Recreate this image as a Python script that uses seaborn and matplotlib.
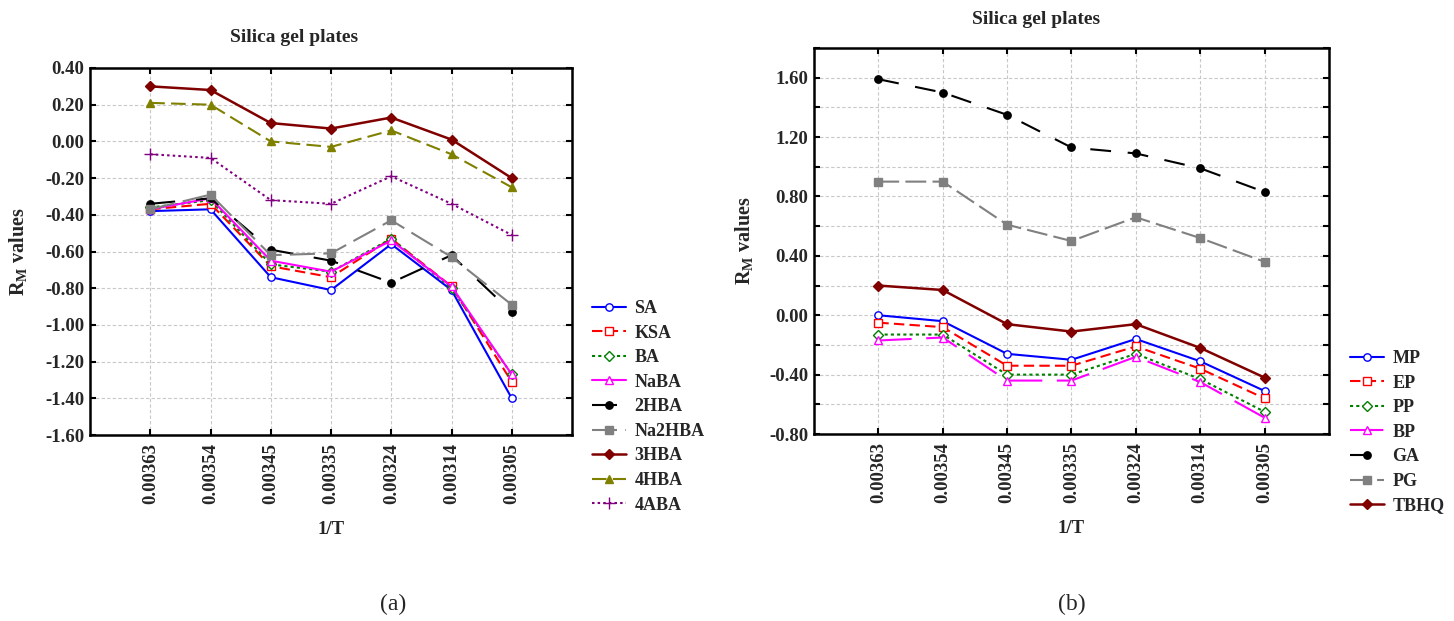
import matplotlib
matplotlib.use("Agg")
import matplotlib.pyplot as plt
import seaborn as sns
from matplotlib.ticker import MultipleLocator, FormatStrFormatter

# ---------------- data ----------------
x_labels = ["0.00363", "0.00354", "0.00345", "0.00335", "0.00324", "0.00314", "0.00305"]

# panel (a)
SA     = [-0.38, -0.37, -0.74, -0.81, -0.56, -0.81, -1.40]
KSA    = [-0.37, -0.34, -0.68, -0.74, -0.53, -0.79, -1.31]
BA     = [-0.36, -0.32, -0.67, -0.71, -0.53, -0.80, -1.27]
NaBA   = [-0.37, -0.31, -0.65, -0.71, -0.54, -0.79, -1.27]
HBA2   = [-0.34, -0.31, -0.59, -0.65, -0.77, -0.62, -0.93]
Na2HBA = [-0.37, -0.29, -0.62, -0.61, -0.43, -0.63, -0.89]
HBA3   = [0.30, 0.28, 0.10, 0.07, 0.13, 0.01, -0.20]
HBA4   = [0.21, 0.20, 0.00, -0.03, 0.06, -0.07, -0.25]
ABA4   = [-0.07, -0.09, -0.32, -0.34, -0.19, -0.34, -0.51]

# panel (b)
MP   = [0.00, -0.04, -0.26, -0.30, -0.16, -0.31, -0.51]
EP   = [-0.05, -0.08, -0.34, -0.34, -0.21, -0.36, -0.56]
PP   = [-0.13, -0.13, -0.40, -0.40, -0.26, -0.43, -0.65]
BP   = [-0.17, -0.15, -0.44, -0.44, -0.28, -0.45, -0.69]
GA   = [1.59, 1.50, 1.35, 1.13, 1.09, 0.99, 0.83]
PG   = [0.90, 0.90, 0.61, 0.50, 0.66, 0.52, 0.36]
TBHQ = [0.20, 0.17, -0.06, -0.11, -0.06, -0.22, -0.42]

sns.set_style("white")
plt.rcParams["font.family"] = ["Liberation Serif", "DejaVu Serif"]
plt.rcParams["font.weight"] = "bold"
plt.rcParams["mathtext.fontset"] = "custom"
plt.rcParams["mathtext.rm"] = "Liberation Serif:bold"
plt.rcParams["mathtext.bf"] = "Liberation Serif:bold"
plt.rcParams["mathtext.it"] = "Liberation Serif:bold"

fig = plt.figure(figsize=(14.54, 6.21), dpi=100)
axA = fig.add_axes([0.0619, 0.2995, 0.3315, 0.591])
axB = fig.add_axes([0.5598, 0.3011, 0.3542, 0.6216])

def draw(ax, label, vals, color, marker, dashes, mfc, ms=5.3, lw=1.5):
    kw = dict(x=x_labels, y=vals, ax=ax, color=color, marker=marker,
              markersize=ms, markerfacecolor=mfc, markeredgecolor=color,
              markeredgewidth=1.0, linewidth=lw, label=label, sort=False,
              errorbar=None)
    if dashes is None:
        kw["linestyle"] = "-"
    else:
        kw["dashes"] = dashes
    sns.lineplot(**kw)

# panel (a)
draw(axA, "SA", SA, "#0000ff", "o", None, "white")
draw(axA, "KSA", KSA, "#ff0000", "s", (5, 2.5), "white")
draw(axA, "BA", BA, "#008000", "D", (1.5, 1.5), "white", ms=4.8)
draw(axA, "NaBA", NaBA, "#ff00ff", "^", None, "white", ms=5.8)
draw(axA, "2HBA", HBA2, "#000000", "o", (12, 10), "#000000", ms=5.3)
draw(axA, "Na2HBA", Na2HBA, "#808080", "s", (12, 4), "#808080", ms=5.3)
draw(axA, "3HBA", HBA3, "#800000", "D", None, "#800000", ms=5.3, lw=1.8)
draw(axA, "4HBA", HBA4, "#808000", "^", (7, 3), "#808000", ms=5.8)
draw(axA, "4ABA", ABA4, "#800080", "+", (1.2, 1.5), "#800080", ms=8)

# panel (b)
draw(axB, "MP", MP, "#0000ff", "o", None, "white")
draw(axB, "EP", EP, "#ff0000", "s", (5, 2.5), "white")
draw(axB, "PP", PP, "#008000", "D", (1.5, 1.5), "white", ms=4.8)
draw(axB, "BP", BP, "#ff00ff", "^", (16, 7), "white", ms=5.8)
draw(axB, "GA", GA, "#000000", "o", (10, 8), "#000000", ms=5.3)
draw(axB, "PG", PG, "#808080", "s", (10, 3), "#808080", ms=5.3)
draw(axB, "TBHQ", TBHQ, "#800000", "D", None, "#800000", ms=5.3, lw=1.8)

tick_fs = 13.5
for ax, ylo, yhi, major, minor in [(axA, -1.6, 0.4, 0.2, 0.2), (axB, -0.8, 1.8, 0.4, 0.2)]:
    ax.set_xlim(-1, 7)
    ax.set_ylim(ylo, yhi)
    ax.yaxis.set_major_locator(MultipleLocator(major))
    ax.yaxis.set_minor_locator(MultipleLocator(minor))
    ax.yaxis.set_major_formatter(FormatStrFormatter("%.2f"))
    ax.grid(True, which="both", color="#c8c8c8", linestyle=(0, (3, 2)), linewidth=0.8)
    ax.set_axisbelow(True)
    for sp in ax.spines.values():
        sp.set_visible(True)
        sp.set_color("black")
        sp.set_linewidth(1.8)
    ax.tick_params(axis="both", which="both", direction="in", top=True, right=True,
                   bottom=True, left=True, length=4, width=1.5, color="black")
    ax.tick_params(axis="x", labelrotation=90, labelsize=tick_fs, pad=6)
    ax.tick_params(axis="y", labelsize=tick_fs, pad=4)
    for lab in ax.get_xticklabels() + ax.get_yticklabels():
        lab.set_fontweight("bold")
    ax.set_xlabel("1/T", fontsize=13.5, fontweight="bold", labelpad=12)

axA.set_ylabel(r"R$_{\mathrm{M}}$ values", fontsize=14.5, fontweight="bold", labelpad=12)
axB.set_ylabel(r"R$_{\mathrm{M}}$ values", fontsize=14.5, fontweight="bold", labelpad=10)

fig.text(294 / 1454, 1 - 38 / 621, "Silica gel plates", ha="center", va="center",
         fontsize=14, fontweight="bold")
fig.text(1036 / 1454, 1 - 20 / 621, "Silica gel plates", ha="center", va="center",
         fontsize=14, fontweight="bold")

leg_kw = dict(loc="upper left", bbox_transform=fig.transFigure, frameon=False,
              prop={"family": "Liberation Serif", "weight": "bold", "size": 13},
              handlelength=1.9, handletextpad=0.45, labelspacing=0.42, borderaxespad=0,
              borderpad=0)
axA.legend(bbox_to_anchor=(592 / 1454, 1 - 300 / 621), **leg_kw)
axB.legend(bbox_to_anchor=(1350 / 1454, 1 - 350 / 621), **leg_kw)

fig.text(393 / 1454, 1 - 604 / 621, "(a)", ha="center", va="center", fontsize=17,
         fontweight="normal")
fig.text(1072 / 1454, 1 - 604 / 621, "(b)", ha="center", va="center", fontsize=17,
         fontweight="normal")

fig.savefig("out.png", dpi=100)
